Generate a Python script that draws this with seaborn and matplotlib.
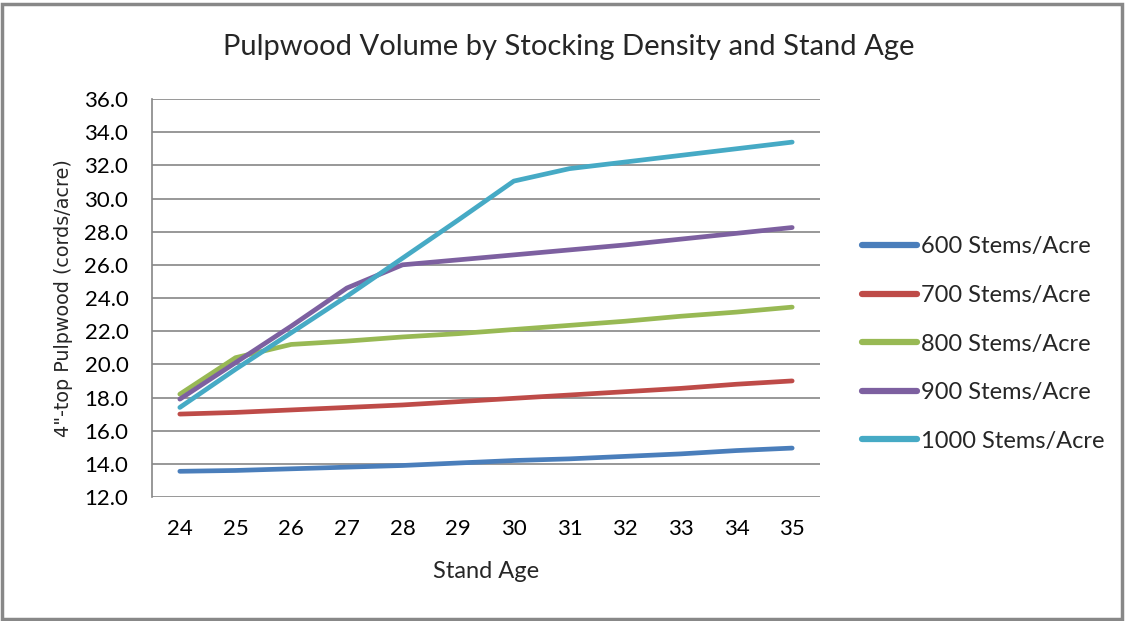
import matplotlib
matplotlib.use("Agg")
import matplotlib.pyplot as plt
import seaborn as sns
import pandas as pd
from matplotlib.patches import Rectangle

ages = [24, 25, 26, 27, 28, 29, 30, 31, 32, 33, 34, 35]
series_names = ["600 Stems/Acre", "700 Stems/Acre", "800 Stems/Acre",
                "900 Stems/Acre", "1000 Stems/Acre"]
s600 = [13.55, 13.6, 13.7, 13.8, 13.9, 14.05, 14.2, 14.3, 14.45, 14.6, 14.8, 14.95]
s700 = [17.0, 17.1, 17.25, 17.4, 17.55, 17.75, 17.95, 18.15, 18.35, 18.55, 18.8, 19.0]
s800 = [18.2, 20.4, 21.2, 21.4, 21.65, 21.85, 22.1, 22.35, 22.6, 22.9, 23.15, 23.45]
s900 = [17.9, 20.1, 22.3, 24.6, 26.0, 26.3, 26.6, 26.9, 27.2, 27.55, 27.9, 28.25]
s1000 = [17.4, 19.7, 21.9, 24.1, 26.4, 28.7, 31.05, 31.8, 32.2, 32.6, 33.0, 33.4]
colors = ["#4A7EBB", "#BE4B48", "#98B954", "#7D60A0", "#46AAC5"]

rows = []
for name, vals in zip(series_names, [s600, s700, s800, s900, s1000]):
    for a, v in zip(ages, vals):
        rows.append({"age": a, "value": v, "series": name})
df = pd.DataFrame(rows)

sns.set_theme(style="white")
plt.rcParams["font.family"] = ["Lato", "DejaVu Sans"]

fig = plt.figure(figsize=(11.27, 6.21), dpi=100)
ax = fig.add_axes([152 / 1127, 1 - 497 / 621, (820 - 152) / 1127, (497 - 99) / 621])

sns.lineplot(data=df, x="age", y="value", hue="series", hue_order=series_names,
             palette=colors, linewidth=3.4, ax=ax, solid_capstyle="round")

ax.set_xlim(23.5, 35.5)
ax.set_ylim(12, 36)
ax.set_xticks(ages)
ax.set_xticklabels([str(a) for a in ages])
ax.set_yticks([12 + 2 * i for i in range(13)])
ax.set_yticklabels([f"{12 + 2 * i:.1f}" for i in range(13)])
ax.tick_params(axis="both", labelsize=16, colors="black", length=0)
ax.tick_params(axis="y", pad=17)
ax.tick_params(axis="x", pad=16)
ax.grid(axis="y", color="#868686", linewidth=1.2)
ax.set_axisbelow(True)
for s in ["top", "right"]:
    ax.spines[s].set_visible(False)
ax.spines["bottom"].set_visible(False)
ax.spines["left"].set_color("#868686")
ax.spines["left"].set_linewidth(1.2)

ax.set_xlabel("Stand Age", fontsize=17, labelpad=16)
ax.set_ylabel("4\"-top Pulpwood (cords/acre)", fontsize=13.8, labelpad=8,
              family=["DejaVu Sans"])

fig.text(569 / 1127, 1 - 47 / 621, "Pulpwood Volume by Stocking Density and Stand Age",
         ha="center", va="center", fontsize=21)

leg = ax.legend(loc="center left", bbox_to_anchor=(862 / 1127, 1 - 344 / 621),
                bbox_transform=fig.transFigure, frameon=False, fontsize=17,
                handlelength=2.35, handletextpad=0.15, labelspacing=1.17,
                borderpad=0, borderaxespad=0)
for line in leg.get_lines():
    line.set_linewidth(4.5)
    line.set_solid_capstyle("round")

fig.patches.append(Rectangle((0.002, 0.004), 0.994, 0.99, transform=fig.transFigure,
                             fill=False, edgecolor="#888888", linewidth=2.5))

fig.savefig("out.png", dpi=100)
